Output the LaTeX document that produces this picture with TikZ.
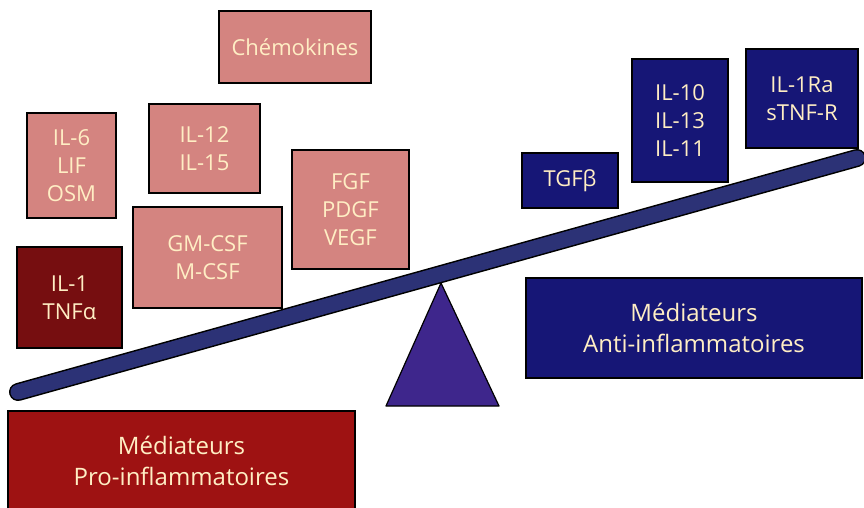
\documentclass[tikz,border=0pt]{standalone}
\usepackage{fontspec}
\setmainfont{Open Sans}
\definecolor{pinkbox}{RGB}{212,132,128}
\definecolor{darkred}{RGB}{118,14,16}
\definecolor{prored}{RGB}{158,18,18}
\definecolor{navy}{RGB}{22,22,118}
\definecolor{beamcol}{RGB}{44,50,118}
\definecolor{fulcrum}{RGB}{62,38,140}
\definecolor{txt}{RGB}{255,238,196}
\begin{document}
\begin{tikzpicture}[x=1pt,y=-1pt,
  box/.style={draw=black, line width=1.4pt, text=txt, align=center, inner sep=0pt,
    font=\fontsize{22}{28}\selectfont},
  bigbox/.style={box, font=\fontsize{24}{31}\selectfont}]
\useasboundingbox[fill=white] (0,0) rectangle (864,508);
% pro-inflammatory cytokines
\node[box, fill=pinkbox, minimum width=152, minimum height=72] (chem) at (295,47) {Chémokines};
\node[box, fill=pinkbox, minimum width=89, minimum height=105] (il6) at (71.5,165.5) {IL-6\\LIF\\OSM};
\node[box, fill=pinkbox, minimum width=111, minimum height=89] (il12) at (204.5,148.5) {IL-12\\IL-15};
\node[box, fill=pinkbox, minimum width=117, minimum height=119] (fgf) at (350.5,209.5) {FGF\\PDGF\\VEGF};
\node[box, fill=pinkbox, minimum width=149, minimum height=101] (gm) at (207.5,257.5) {GM-CSF\\M-CSF};
\node[box, fill=darkred, minimum width=105, minimum height=101] (il1) at (69.5,297.5) {IL-1\\TNFα};
% anti-inflammatory
\node[box, fill=navy, minimum width=96, minimum height=55] (tgf) at (570,180.5) {TGFβ};
\node[box, fill=navy, minimum width=96, minimum height=123] (il10) at (680,120.5) {IL-10\\IL-13\\IL-11};
\node[box, fill=navy, minimum width=112, minimum height=99] (il1ra) at (802,98.5) {IL-1Ra\\sTNF-R};
\node[bigbox, fill=navy, minimum width=336, minimum height=100] (anti) at (694,328) {Médiateurs\\Anti-inflammatoires};
\node[bigbox, fill=prored, minimum width=347, minimum height=99] (pro) at (181.5,460.5) {Médiateurs\\Pro-inflammatoires};
% fulcrum
\coordinate (apex) at (441,283);
\coordinate (bl) at (386,406);
\coordinate (br) at (499,406);
\draw[fill=fulcrum, line width=1.2pt, line join=round] (apex) -- (bl) -- (br) -- cycle;
% beam
\coordinate (beamL) at (18,392);
\coordinate (beamR) at (857,158);
\draw[line width=18pt, line cap=round, black] (beamL) -- (beamR);
\draw[line width=15pt, line cap=round, beamcol] (beamL) -- (beamR);
\end{tikzpicture}
\end{document}
